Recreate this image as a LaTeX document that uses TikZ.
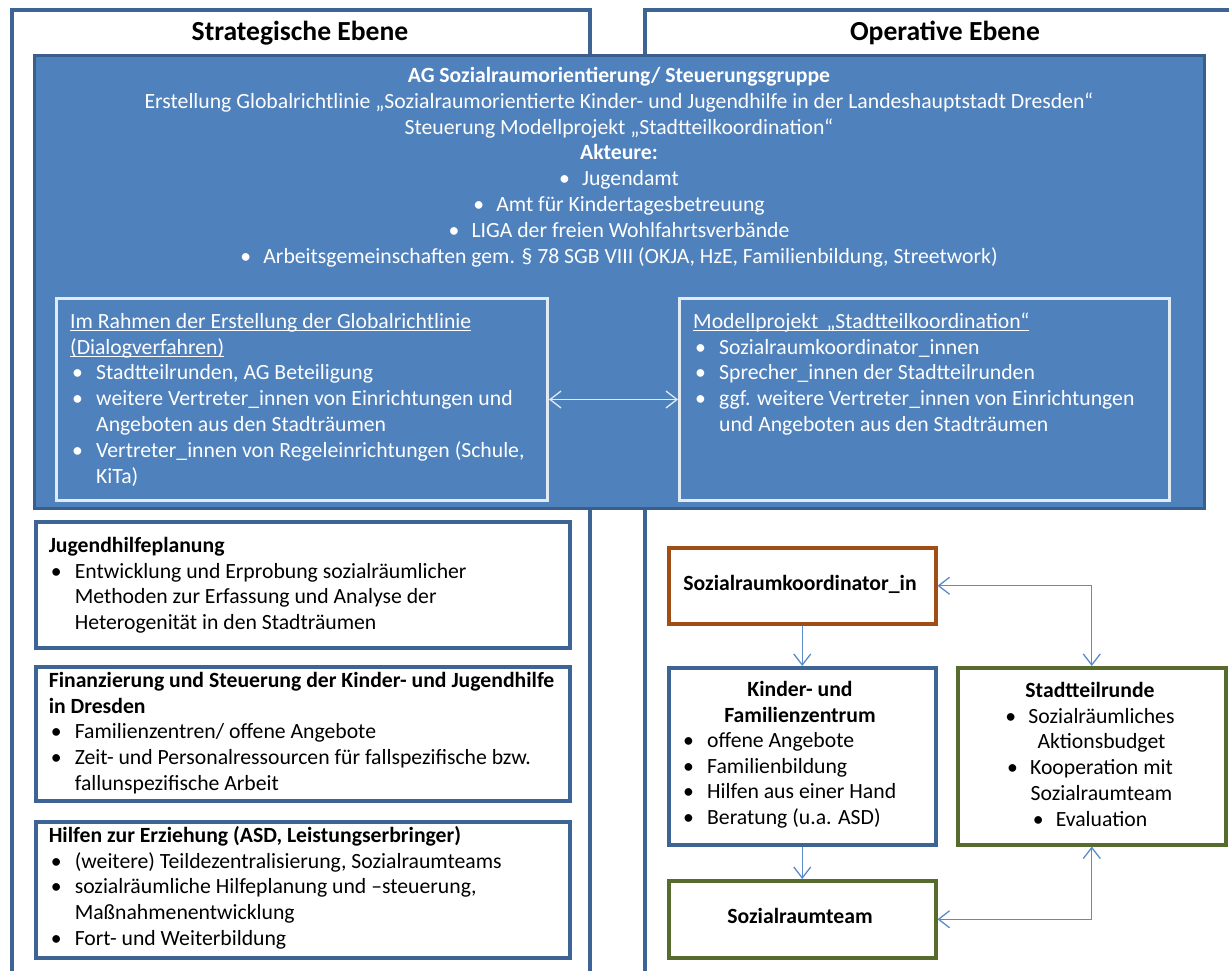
\documentclass[tikz,border=0pt]{standalone}
\usepackage{fontspec}
\setmainfont{Carlito}
\usetikzlibrary{arrows.meta}

\definecolor{frameblue}{HTML}{3E6496}
\definecolor{agfill}{HTML}{4F81BD}
\definecolor{agedge}{HTML}{3A5F8E}
\definecolor{agshade}{HTML}{34567F}
\definecolor{paleedge}{HTML}{E2EAF4}
\definecolor{linkblue}{HTML}{5B8BC8}
\definecolor{rust}{HTML}{A04E16}
\definecolor{olive}{HTML}{566B2C}

\newcommand\bodyfont{\fontsize{21.7}{25.9}\selectfont}
\newcommand\headfont{\fontsize{27.6}{30}\selectfont\bfseries}
% underline sitting just below the baseline
\newcommand\ulx[1]{\setbox0=\hbox{#1}\rlap{\rule[-2.8pt]{\wd0}{1.2pt}}\box0}
% bullet with hanging text, and the matching indent
\newcommand\bul{\makebox[26pt][l]{\hspace*{2pt}\textbullet}}
\newcommand\hind{\hspace*{26pt}}
% bullet used in centred lists
\newcommand\cbul{\makebox[23pt][l]{\textbullet}}

\tikzset{
  box/.style={rectangle, anchor=north west, inner sep=0pt},
  txt/.style={inner sep=0pt, anchor=north west, align=left, font=\bodyfont},
  ctxt/.style={inner sep=0pt, anchor=north, align=center, font=\bodyfont},
  lbl/.style={inner sep=0pt, anchor=base, font=\bodyfont\bfseries},
  lowbox/.style={box, draw=frameblue, line width=3.5pt, fill=white},
  inbox/.style={box, draw=paleedge, line width=3pt},
  barb/.style={Straight Barb[length=11pt,width=17pt]},
  twoway/.style={draw=linkblue, line width=1.3pt, {Straight Barb[length=11pt,width=17pt]}-{Straight Barb[length=11pt,width=17pt]}},
  oneway/.style={draw=linkblue, line width=1.3pt, -{Straight Barb[length=11pt,width=17pt]}},
}

\begin{document}
\begin{tikzpicture}[x=1pt,y=-1pt]
\useasboundingbox (0,0) rectangle (1229,970);
\clip (0,0) rectangle (1229,970);
\fill[white] (0,0) rectangle (1229,970);

% the two level frames, open at the bottom
\draw[frameblue, line width=3.5pt] (12,985) -- (12,10) -- (590,10) -- (590,985);
\draw[frameblue, line width=3.5pt] (645,985) -- (645,10) -- (1245,10);
\node[font=\headfont, anchor=base] (hs) at (300,40) {Strategische Ebene};
\node[font=\headfont, anchor=base] (ho) at (945,40) {Operative Ebene};

% steering group panel
\node[box, fill=agshade, minimum width=1170pt, minimum height=453pt] (agshadow) at (36,57) {};
\node[box, fill=agfill, draw=agedge, line width=2.5pt, minimum width=1170pt, minimum height=453pt] (ag) at (33,54) {};
\node[ctxt, text=white] (agtext) at (619,63.9) {\strut\textbf{AG Sozialraumorientierung/ Steuerungsgruppe}\\
Erstellung Globalrichtlinie „Sozialraumorientierte Kinder- und Jugendhilfe in der Landeshauptstadt Dresden“\\
Steuerung Modellprojekt „Stadtteilkoordination“\\
\textbf{Akteure:}\\
\cbul Jugendamt\\
\cbul Amt für Kindertagesbetreuung\\
\cbul LIGA der freien Wohlfahrtsverbände\\
\cbul Arbeitsgemeinschaften gem. § 78 SGB VIII (OKJA, HzE, Familienbildung, Streetwork)};

\node[inbox, minimum width=491pt, minimum height=202pt] (inL) at (55,297) {};
\node[inbox, minimum width=490pt, minimum height=202pt] (inR) at (678,297) {};
\node[txt, text=white] (inLtext) at (70,309.8) {\strut\ulx{Im Rahmen der Erstellung der Globalrichtlinie}\\
\ulx{(Dialogverfahren)}\\
\bul Stadtteilrunden, AG Beteiligung\\
\bul weitere Vertreter\_innen von Einrichtungen und\\
\hind Angeboten aus den Stadträumen\\
\bul Vertreter\_innen von Regeleinrichtungen (Schule,\\
\hind KiTa)};
\node[txt, text=white] (inRtext) at (693,309.8) {\strut\ulx{Modellprojekt\hspace{8pt}„Stadtteilkoordination“}\\
\bul Sozialraumkoordinator\_innen\\
\bul Sprecher\_innen der Stadtteilrunden\\
\bul ggf. weitere Vertreter\_innen von Einrichtungen\\
\hind und Angeboten aus den Stadträumen};
\draw[twoway, draw=paleedge] (inL.east) -- (inR.west);

% strategic fields
\node[lowbox, minimum width=534pt, minimum height=126pt] (jhp) at (34,520) {};
\node[lowbox, minimum width=534pt, minimum height=134pt] (fin) at (34,665) {};
\node[lowbox, minimum width=534pt, minimum height=136pt] (hze) at (34,820) {};
\node[txt] (jhptext) at (48.6,533.8) {\strut\textbf{Jugendhilfeplanung}\\
\bul Entwicklung und Erprobung sozialräumlicher\\
\hind Methoden zur Erfassung und Analyse der\\
\hind Heterogenität in den Stadträumen};
\node[txt] (fintext) at (48.6,668.8) {\strut\textbf{Finanzierung und Steuerung der Kinder- und Jugendhilfe}\\
\textbf{in Dresden}\\
\bul Familienzentren/ offene Angebote\\
\bul Zeit- und Personalressourcen für fallspezifische bzw.\\
\hind fallunspezifische Arbeit};
\node[txt] (hzetext) at (48.6,823.8) {\strut\textbf{Hilfen zur Erziehung (ASD, Leistungserbringer)}\\
\bul (weitere) Teildezentralisierung, Sozialraumteams\\
\bul sozialräumliche Hilfeplanung und –steuerung,\\
\hind Maßnahmenentwicklung\\
\bul Fort- und Weiterbildung};

% operative structure
\node[box, draw=rust, line width=3.5pt, minimum width=267pt, minimum height=76pt] (srk) at (667,546) {};
\node[box, draw=frameblue, line width=3.5pt, minimum width=267pt, minimum height=177pt] (kfz) at (667,666) {};
\node[box, draw=olive, line width=3.5pt, minimum width=268pt, minimum height=177pt] (str) at (956,666) {};
\node[box, draw=olive, line width=3.5pt, minimum width=267pt, minimum height=77pt] (srt) at (667,879) {};

\node[lbl] (srklabel) at (800,590) {Sozialraumkoordinator\_in};
\node[ctxt] (kfztitle) at (800,677.8) {\strut\textbf{Kinder- und}\\ \textbf{Familienzentrum}};
\node[txt] (kfztext) at (681,728.8) {\strut\bul offene Angebote\\
\bul Familienbildung\\
\bul Hilfen aus einer Hand\\
\bul Beratung (u.a. ASD)};
\node[ctxt] (strtext) at (1090,678.8) {\strut\textbf{Stadtteilrunde}\\
\cbul Sozialräumliches\\
\hspace*{23pt}Aktionsbudget\\
\cbul Kooperation mit\\
\hspace*{23pt}Sozialraumteam\\
\cbul Evaluation};
\node[lbl] (srtlabel) at (800,923) {Sozialraumteam};

\draw[oneway] (srk.south) -- (kfz.north);
\draw[oneway] (kfz.south) -- (srt.north);
\draw[twoway] (srk.east) -| (str.north);
\draw[twoway] (srt.east) -| (str.south);
\end{tikzpicture}
\end{document}
